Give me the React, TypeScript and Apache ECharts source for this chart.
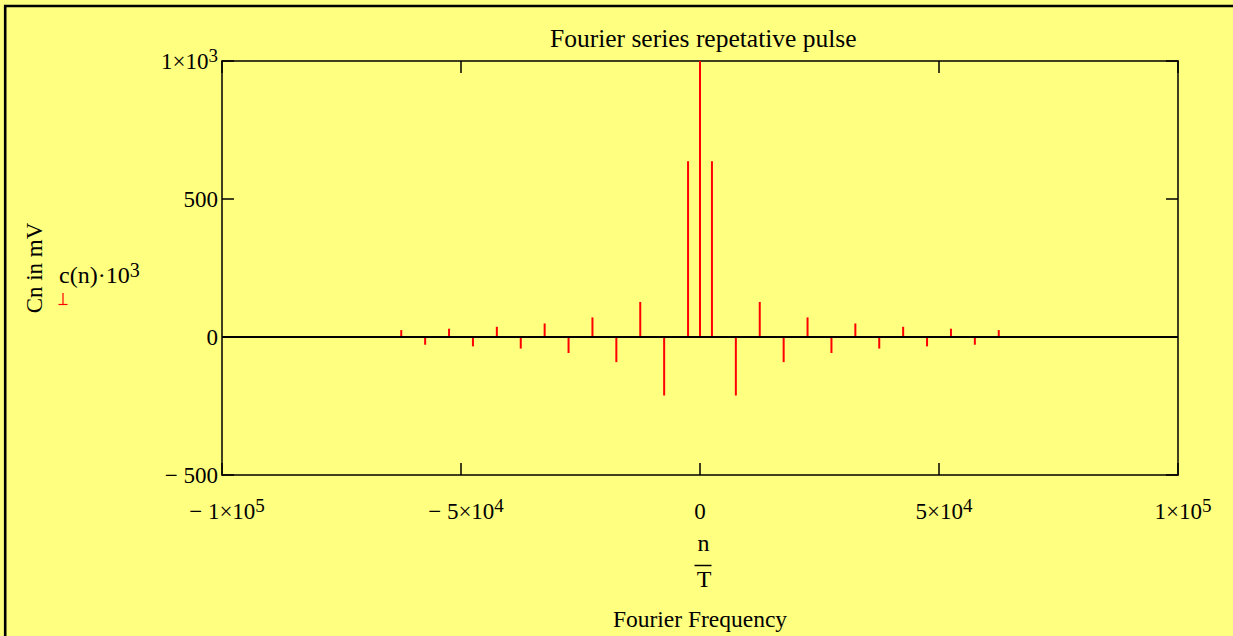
import React, { useEffect, useRef } from "react";
import * as echarts from "echarts";

// Harmonic numbers n and Fourier coefficients c(n)·10^3 (mV)
const harmonics = [
  -25, -23, -21, -19, -17, -15, -13, -11, -9, -7, -5, -3, -1, 0,
  1, 3, 5, 7, 9, 11, 13, 15, 17, 19, 21, 23, 25,
];
const cnMilliVolt = [
  25, -28, 30, -34, 37, -42, 49, -58, 71, -91, 127, -212, 637, 1000,
  637, -212, 127, -91, 71, -58, 49, -42, 37, -34, 30, -28, 25,
];
const periodT = 0.0004; // T in seconds -> frequency n/T

// Tick labels
const xTickValues = [-100000, -50000, 0, 50000, 100000];
const xTickMain = ["\u2212 1\u00d710", "\u2212 5\u00d710", "0", "5\u00d710", "1\u00d710"];
const xTickExp = ["5", "4", "", "4", "5"];
const yTickValues = [-500, 0, 500, 1000];
const yTickMain = ["\u2212 500", "0", "500", "1\u00d710"];
const yTickExp = ["", "", "", "3"];

const titleText = "Fourier series repetative pulse";
const yAxisTitle = "Cn in mV";
const xAxisTitle = "Fourier Frequency";
const legendMain = "c(n)\u00b710";
const legendExp = "3";

const FONT = "'Liberation Serif', 'Times New Roman', serif";
const BG = "#ffff80";

export default function App() {
  const ref = useRef<HTMLDivElement>(null);

  useEffect(() => {
    document.body.style.margin = "0";
    document.body.style.background = BG;
    if (!ref.current) return;
    const chart = echarts.init(ref.current, undefined, { renderer: "svg" });

    const richBase = {
      m: { fontSize: 23, fontFamily: FONT, color: "#000", lineHeight: 30 },
      e: { fontSize: 19, fontFamily: FONT, color: "#000", lineHeight: 14, verticalAlign: "top" as const },
      p: { fontSize: 19, fontFamily: FONT, width: 10 },
    };
    const richLegend = {
      m: { fontSize: 24, fontFamily: FONT, color: "#000", lineHeight: 30 },
      e: { fontSize: 20, fontFamily: FONT, color: "#000", lineHeight: 14, verticalAlign: "top" as const },
    };

    const data = harmonics.map((n, i) => [n / periodT, cnMilliVolt[i]]);

    const axisLine = { show: true, onZero: false, lineStyle: { color: "#000", width: 1.5 } };
    const axisTick = { show: true, inside: true, length: 12, lineStyle: { color: "#000", width: 1.5 } };

    chart.setOption({
      animation: false,
      backgroundColor: BG,
      title: {
        text: titleText,
        left: 545,
        top: 20,
        textStyle: { fontFamily: FONT, fontSize: 25.5, fontWeight: "normal", color: "#000" },
      },
      grid: { left: 222, top: 61, right: 55, bottom: 160, containLabel: false },
      xAxis: [
        {
          type: "value",
          position: "bottom",
          min: -100000,
          max: 100000,
          interval: 50000,
          axisLine,
          axisTick,
          splitLine: { show: false },
          name: xAxisTitle,
          nameLocation: "middle",
          nameGap: 132,
          nameTextStyle: { fontFamily: FONT, fontSize: 23.5, color: "#000", verticalAlign: "top" },
          axisLabel: {
            margin: 21,
            formatter: (v: number) => {
              const i = xTickValues.indexOf(v);
              if (i < 0) return "";
              return xTickExp[i]
                ? `{p| }{m|${xTickMain[i]}}{e|${xTickExp[i]}}`
                : `{m|${xTickMain[i]}}`;
            },
            rich: richBase,
          },
        },
        {
          type: "value",
          position: "top",
          min: -100000,
          max: 100000,
          interval: 50000,
          axisLine,
          axisTick,
          axisLabel: { show: false },
          splitLine: { show: false },
        },
      ],
      yAxis: [
        {
          type: "value",
          position: "left",
          min: -500,
          max: 1000,
          interval: 500,
          axisLine,
          axisTick,
          splitLine: { show: false },
          name: yAxisTitle,
          nameLocation: "middle",
          nameGap: 176,
          nameRotate: 90,
          nameTextStyle: { fontFamily: FONT, fontSize: 23, color: "#000", padding: [0, 0, 0, 0] },
          axisLabel: {
            margin: 4,
            formatter: (v: number) => {
              const i = yTickValues.indexOf(v);
              if (i < 0) return "";
              return yTickExp[i]
                ? `{m|${yTickMain[i]}}{e|${yTickExp[i]}}`
                : `{m|${yTickMain[i]}}`;
            },
            rich: richBase,
          },
        },
        {
          type: "value",
          position: "right",
          min: -500,
          max: 1000,
          interval: 500,
          axisLine,
          axisTick,
          axisLabel: { show: false },
          splitLine: { show: false },
        },
      ],
      series: [
        {
          type: "bar",
          xAxisIndex: 0,
          yAxisIndex: 0,
          data,
          barWidth: 2,
          itemStyle: { color: "#ff0000" },
          markLine: {
            silent: true,
            symbol: "none",
            label: { show: false },
            lineStyle: { color: "#000", width: 2, type: "solid" },
            data: [{ yAxis: 0 }],
          },
        },
      ],
      graphic: [
        {
          type: "rect",
          shape: { x: 5.2, y: 6, width: 1400, height: 800 },
          style: { fill: "none", stroke: "#000", lineWidth: 2.6 },
          silent: true,
        },
        {
          type: "text",
          x: 59,
          y: 275,
          style: {
            text: `{m|${legendMain}}{e|${legendExp}}`,
            rich: richLegend,
            verticalAlign: "middle",
          },
        },
        {
          type: "line",
          shape: { x1: 63, y1: 293, x2: 63, y2: 305 },
          style: { stroke: "#ff0000", lineWidth: 1.2 },
        },
        {
          type: "line",
          shape: { x1: 58.5, y1: 304.5, x2: 67.5, y2: 304.5 },
          style: { stroke: "#ff0000", lineWidth: 1.2 },
        },
        {
          type: "text",
          x: 703.5,
          y: 555,
          style: { text: "n", font: `24px ${FONT}`, fill: "#000", align: "center", verticalAlign: "bottom" },
        },
        {
          type: "line",
          shape: { x1: 694.5, y1: 565.5, x2: 711.5, y2: 565.5 },
          style: { stroke: "#000", lineWidth: 1.5 },
        },
        {
          type: "text",
          x: 704,
          y: 591,
          style: { text: "T", font: `24px ${FONT}`, fill: "#000", align: "center", verticalAlign: "bottom" },
        },
      ],
    });

    return () => chart.dispose();
  }, []);

  return <div ref={ref} style={{ width: 1233, height: 636 }} />;
}
